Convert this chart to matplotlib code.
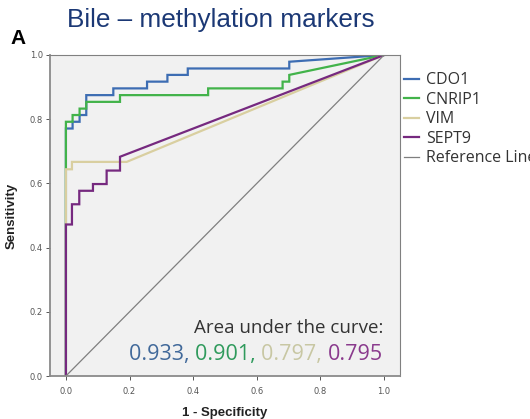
import matplotlib
matplotlib.use("Agg")
import matplotlib.pyplot as plt

# ROC curve points (1 - specificity, sensitivity) per marker
cdo1_fpr = [0, 0, 0.021, 0.021, 0.043, 0.043, 0.064, 0.064, 0.149, 0.149,
            0.255, 0.255, 0.319, 0.319, 0.383, 0.383, 0.702, 0.702, 1.0]
cdo1_tpr = [0, 0.771, 0.771, 0.792, 0.792, 0.813, 0.813, 0.875, 0.875, 0.896,
            0.896, 0.917, 0.917, 0.938, 0.938, 0.958, 0.958, 0.979, 1.0]

cnrip1_fpr = [0, 0, 0.021, 0.021, 0.043, 0.043, 0.064, 0.064, 0.170, 0.170,
              0.447, 0.447, 0.681, 0.681, 0.702, 0.702, 1.0]
cnrip1_tpr = [0, 0.792, 0.792, 0.813, 0.813, 0.833, 0.833, 0.854, 0.854, 0.875,
              0.875, 0.896, 0.896, 0.917, 0.917, 0.938, 1.0]

vim_fpr = [0, 0, 0.019, 0.019, 0.191, 1.0]
vim_tpr = [0, 0.644, 0.644, 0.667, 0.667, 1.0]

sept9_fpr = [0, 0, 0.019, 0.019, 0.042, 0.042, 0.085, 0.085, 0.128, 0.128,
             0.170, 0.170, 1.0]
sept9_tpr = [0, 0.472, 0.472, 0.535, 0.535, 0.577, 0.577, 0.598, 0.598, 0.640,
             0.640, 0.683, 1.0]

ref_line = [0, 1]

markers = ["CDO1", "CNRIP1", "VIM", "SEPT9"]
auc_values = ["0.933", "0.901", "0.797", "0.795"]
ticks = [0.0, 0.2, 0.4, 0.6, 0.8, 1.0]

line_colors = ["#3d6db3", "#42b34a", "#d9cfa0", "#76297f"]
auc_colors = ["#41699a", "#2f9a5c", "#c8c7a3", "#8a3a8d"]
ref_color = "#7f7f7f"

fig = plt.figure(figsize=(5.30, 4.19), dpi=100)
fig.patch.set_facecolor("white")
ax = fig.add_axes([50 / 530, 1 - 376 / 419, 350 / 530, 321 / 419])
ax.set_facecolor("#f1f1f1")

curves = [(cdo1_fpr, cdo1_tpr), (cnrip1_fpr, cnrip1_tpr),
          (vim_fpr, vim_tpr), (sept9_fpr, sept9_tpr)]
for (fx, ty), name, col in zip(curves, markers, line_colors):
    ax.plot(fx, ty, color=col, lw=1.6, label=name, solid_joinstyle="miter")
ax.plot(ref_line, ref_line, color=ref_color, lw=0.9, label="Reference Line")

ax.set_xlim(-0.05, 1.05)
ax.set_ylim(0, 1.0)
ax.set_xticks(ticks)
ax.set_yticks(ticks)
ax.set_xticklabels([f"{t:.1f}" for t in ticks])
ax.set_yticklabels([f"{t:.1f}" for t in ticks])
ax.tick_params(axis="both", labelsize=6, colors="#555555", length=3,
               width=0.7, pad=2)
ax.tick_params(axis="x", pad=5)
for side in ["top", "right"]:
    ax.spines[side].set_color("#808080")
    ax.spines[side].set_linewidth(0.8)
for side in ["left", "bottom"]:
    ax.spines[side].set_color("#8a8a8a")
    ax.spines[side].set_linewidth(1.3)

ax.set_xlabel("1 - Specificity", fontsize=9.5, fontweight="bold",
              family="Liberation Sans", color="#222222", labelpad=8)
ax.set_ylabel("Sensitivity", fontsize=9.5, fontweight="bold",
              family="Liberation Sans", color="#222222", labelpad=9)

leg = ax.legend(loc="upper left", bbox_to_anchor=(1.012, 0.946), frameon=False,
                handlelength=0.9, handletextpad=0.45, labelspacing=0.22,
                borderaxespad=0.0, borderpad=0.0,
                prop={"family": "Open Sans", "size": 11.5})
for txt in leg.get_texts():
    txt.set_color("#333333")

# AUC caption: heading plus colour-coded values, right aligned
fig.text(383 / 530, 1 - 333 / 419, "Area under the curve:", ha="right",
         va="baseline", fontsize=13.5, family="Open Sans", color="#333333")

fig.canvas.draw()
renderer = fig.canvas.get_renderer()
parts = [auc_values[0] + ", ", auc_values[1] + ", ", auc_values[2] + ", ",
         auc_values[3]]
x_right = 383
y_base = 1 - 360 / 419
for part, col in zip(reversed(parts), reversed(auc_colors)):
    t = fig.text(x_right / 530, y_base, part, ha="right", va="baseline",
                 fontsize=15.5, family="Open Sans", color=col)
    bb = t.get_window_extent(renderer)
    x_right -= bb.width

fig.text(221 / 530, 1 - 27 / 419, "Bile \u2013 methylation markers",
         ha="center", va="baseline", fontsize=18.8, family="Liberation Sans",
         color="#1b3875")
fig.text(10 / 530, 1 - 44 / 419, "A", ha="left", va="baseline", fontsize=15,
         fontweight="bold", family="Liberation Sans", color="black")

fig.savefig("out.png", dpi=100)
